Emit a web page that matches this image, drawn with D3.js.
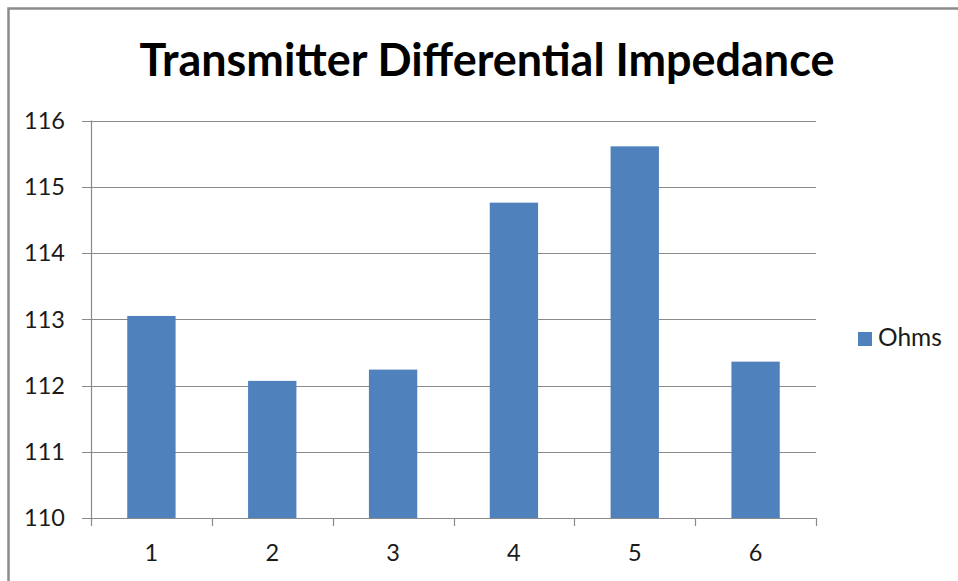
<!DOCTYPE html>
<html><head><meta charset="utf-8">
<script src="https://cdn.jsdelivr.net/npm/d3@7/dist/d3.min.js"></script>
<style>html,body{margin:0;padding:0;background:#fff;}svg{display:block;}</style>
</head><body>
<svg id="chart" width="958" height="581"></svg>
<script>
const categories = ["1","2","3","4","5","6"];
const seriesName = "Ohms";
const values = [113.05, 112.07, 112.24, 114.76, 115.61, 112.36];
const yTicks = [110,111,112,113,114,115,116];
const title = "Transmitter Differential Impedance";

(function draw(){
const svg = d3.select("#chart");
const font = "Lato, 'Open Sans', sans-serif";
// chart frame
svg.append("path").attr("d","M8.5,590 L8.5,8.5 L960,8.5").attr("fill","none").attr("stroke","#8c8c8c").attr("stroke-width",2.5);

const pL = 91, pR = 816, pT = 120.5, pB = 518;
const x = d3.scaleBand().domain(categories).range([pL,pR]).paddingInner(0.6).paddingOuter(0.3);
const xb = d3.scaleBand().domain(categories).range([pL,pR]);
const y = d3.scaleLinear().domain([110,116]).range([pB,pT]);
const grid = "#8a8a8a";

// gridlines
svg.append("g").selectAll("line").data(yTicks).join("line")
  .attr("x1",82).attr("x2",pR).attr("y1",d=>Math.round(y(d))+0.5).attr("y2",d=>Math.round(y(d))+0.5)
  .attr("stroke",grid).attr("stroke-width",1.2);

// bars
svg.append("g").selectAll("rect").data(values).join("rect")
  .attr("x",(d,i)=>x(categories[i])).attr("width",x.bandwidth())
  .attr("y",d=>y(d)).attr("height",d=>y(110)-y(d))
  .attr("fill","#4f81bd");

// y axis line
svg.append("line").attr("x1",pL+0.5).attr("x2",pL+0.5).attr("y1",pT).attr("y2",pB+8).attr("stroke",grid).attr("stroke-width",1.2);
// x tick marks
const bounds = categories.map(c=>xb(c)).concat([pR]);
svg.append("g").selectAll("line").data(bounds.slice(1)).join("line")
  .attr("x1",d=>Math.round(d)+0.5).attr("x2",d=>Math.round(d)+0.5).attr("y1",pB).attr("y2",pB+8)
  .attr("stroke",grid).attr("stroke-width",1.2);

// y labels
svg.append("g").selectAll("text").data(yTicks).join("text")
  .attr("x",65).attr("y",d=>y(d)).attr("dy","0.36em").attr("text-anchor","end")
  .attr("font-family",font).attr("font-size",23.5).attr("fill","#1a1a1a").text(d=>d);
// x labels
svg.append("g").selectAll("text").data(categories).join("text")
  .attr("x",d=>xb(d)+xb.bandwidth()/2).attr("y",561).attr("text-anchor","middle")
  .attr("font-family",font).attr("font-size",23.5).attr("fill","#1a1a1a").text(d=>d);

// title
const t = svg.append("text").attr("x",487).attr("y",76).attr("text-anchor","middle")
  .attr("font-family",font).attr("font-weight","bold").attr("font-size",44).attr("fill","#000").text(title);
const w = t.node().getComputedTextLength();
t.attr("font-size", 44*695/w);

// legend
svg.append("rect").attr("x",858).attr("y",332).attr("width",14).attr("height",14).attr("fill","#4f81bd");
svg.append("text").attr("x",878).attr("y",346).attr("font-family",font).attr("font-size",24.5).attr("fill","#1a1a1a").text(seriesName);
})();
</script>
</body></html>
